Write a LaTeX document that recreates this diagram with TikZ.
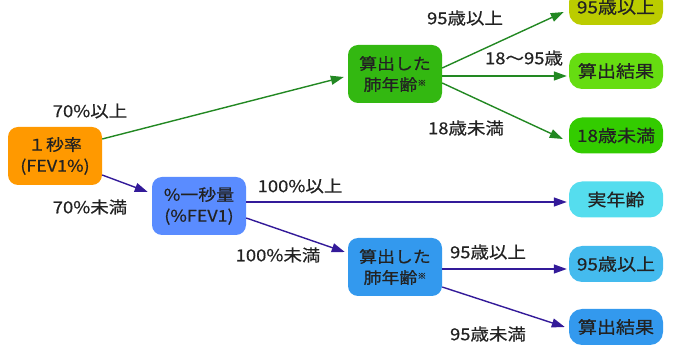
\documentclass[tikz,border=0pt]{standalone}
\usepackage{fontspec}
\setmainfont{Noto Sans CJK JP}[FakeStretch=1.12,FakeBold=0.6]
\usetikzlibrary{arrows.meta,calc}
\definecolor{txt}{HTML}{222222}
\definecolor{corange}{HTML}{FF9900}
\definecolor{cblueA}{HTML}{5A8CFF}
\definecolor{cgreen}{HTML}{33B811}
\definecolor{cblueB}{HTML}{3399EE}
\definecolor{cyg}{HTML}{BBCC00}
\definecolor{clg}{HTML}{66DD11}
\definecolor{cmg}{HTML}{33CC00}
\definecolor{ccyan}{HTML}{55DDEE}
\definecolor{csky}{HTML}{44BBEE}
\definecolor{arrg}{HTML}{228822}
\definecolor{arrb}{HTML}{331A99}
\newcommand{\kome}{\raisebox{0.55ex}{\fontsize{8}{8}\selectfont ※}}
\begin{document}
\begin{tikzpicture}[x=1pt,y=-1pt,
  box/.style={rounded corners=10pt, minimum width=94pt, minimum height=58pt, align=center, text=txt, font=\fontsize{16}{21}\selectfont, inner sep=0pt},
  res/.style={rounded corners=13pt, minimum width=94pt, minimum height=36pt, text=txt, font=\fontsize{17}{17}\selectfont, inner sep=0pt},
  lab/.style={text=txt, font=\fontsize{16.5}{16.5}\selectfont, inner sep=0pt},
  garr/.style={draw=arrg, line width=1.4pt, -{Triangle[length=13pt,width=9pt]}},
  barr/.style={draw=arrb, line width=1.4pt, -{Triangle[length=13pt,width=9pt]}}]
\useasboundingbox (0,0) rectangle (673,347);
\clip (0,0) rectangle (673,347);
% main boxes
\node[box, fill=corange] (o) at (55,156) {１秒率\\(FEV1\%)};
\node[box, fill=cblueA] (b1) at (199,206) {\%一秒量\\(\%FEV1)};
\node[box, fill=cgreen] (g) at (395,74) {算出した\\肺年齢\kome};
\node[box, fill=cblueB] (b2) at (395,267) {算出した\\肺年齢\kome};
% result boxes
\node[res, fill=cyg] (r1) at (616,7) {95歳以上};
\node[res, fill=clg] (r2) at (616,71) {算出結果};
\node[res, fill=cmg] (r3) at (616,135.5) {18歳未満};
\node[res, fill=ccyan] (r4) at (616,199.5) {実年齢};
\node[res, fill=csky] (r5) at (616,264) {95歳以上};
\node[res, fill=cblueB] (r6) at (616,327) {算出結果};
% connectors
\draw[garr] ($(o.east)+(0,-17)$) -- ($(g.west)+(-4,3)$);
\draw[barr] ($(o.east)+(0,19)$) -- ($(b1.west)+(-4,-14)$);
\draw[barr] ($(b1.east)+(0,-4)$) -- ($(r4.west)+(-2,2.5)$);
\draw[barr] ($(b1.east)+(0,12)$) -- ($(b2.west)+(-3,-15)$);
\draw[garr] ($(g.east)+(0,-6)$) -- ($(r1.west)+(-5,5)$);
\draw[garr] ($(g.east)+(0,2)$) -- ($(r2.west)+(-2,5)$);
\draw[garr] ($(g.east)+(0,9)$) -- ($(r3.west)+(-6,3.5)$);
\draw[barr] ($(b2.east)+(0,2)$) -- ($(r5.west)+(-2,5)$);
\draw[barr] ($(b2.east)+(0,20)$) -- ($(r6.west)+(-4,0)$);
% labels
\node[lab] (l1) at (90,111) {70\%以上};
\node[lab] (l2) at (90,207) {70\%未満};
\node[lab] (l3) at (300,186) {100\%以上};
\node[lab] (l4) at (278,255) {100\%未満};
\node[lab] (l5) at (465,18) {95歳以上};
\node[lab] (l6) at (524,58) {18〜95歳};
\node[lab] (l7) at (466,128) {18歳未満};
\node[lab] (l8) at (488,252) {95歳以上};
\node[lab] (l9) at (488,334) {95歳未満};
\end{tikzpicture}
\end{document}
